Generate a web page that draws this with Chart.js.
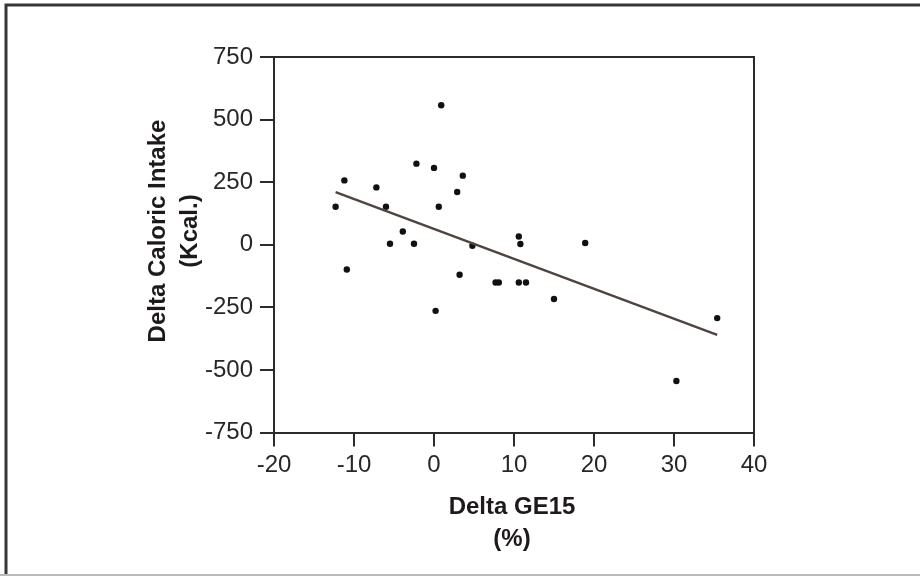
<!DOCTYPE html>
<html>
<head>
<meta charset="utf-8">
<script src="https://cdn.jsdelivr.net/npm/chart.js@4.4.1/dist/chart.umd.min.js"></script>
<style>
  html, body { margin: 0; padding: 0; background: #fff; }
  canvas { display: block; }
</style>
</head>
<body>
<canvas id="chart" width="920" height="576"></canvas>
<script>
// values
const deltaGE15 = [0.9, -2.2, 0.0, 3.6, -11.2, -7.2, 2.9, -12.3, -6.0, 0.6, -3.9, -5.5, -2.5, 4.8,
  -10.9, 3.2, 0.2, 10.6, 10.8, 18.9, 7.7, 8.1, 10.6, 11.5, 15.0, 35.4, 30.3];
const deltaKcal = [557, 324, 307, 276, 257, 229, 211, 152, 152, 152, 53, 4, 4, -4,
  -99, -120, -264, 33, 3, 7, -151, -151, -151, -151, -217, -293, -544];
const fitX = [-12.3, 35.4];
const fitY = [210, -360];
const xTitle = ["Delta GE15", "(%)"];
const yTitle = ["Delta Caloric Intake", "(Kcal.)"];

const ink = "#2e2a29";
const fontFamily = "Arial, 'Liberation Sans', Helvetica, sans-serif";

const framePlugin = {
  id: "frame",
  beforeDraw(chart) {
    const ctx = chart.ctx;
    ctx.save();
    ctx.fillStyle = "#fff";
    ctx.fillRect(0, 0, chart.width, chart.height);
    ctx.restore();
  },
  afterDraw(chart) {
    const ctx = chart.ctx;
    const a = chart.chartArea;
    ctx.save();
    // plot box (top and right)
    ctx.strokeStyle = ink;
    ctx.lineWidth = 2;
    ctx.beginPath();
    ctx.moveTo(a.left, a.top);
    ctx.lineTo(a.right, a.top);
    ctx.lineTo(a.right, a.bottom);
    ctx.stroke();

    // outer picture border
    ctx.strokeStyle = "#3a3535";
    ctx.lineWidth = 3;
    ctx.beginPath();
    ctx.moveTo(6, chart.height);
    ctx.lineTo(6, 5);
    ctx.lineTo(chart.width, 5);
    ctx.stroke();
    ctx.strokeStyle = "#bbbbbb";
    ctx.lineWidth = 2;
    ctx.beginPath();
    ctx.moveTo(0, chart.height - 1);
    ctx.lineTo(chart.width, chart.height - 1);
    ctx.stroke();

    // axis titles
    ctx.fillStyle = "#1e1a1a";
    ctx.font = "bold 24px " + fontFamily;
    ctx.textAlign = "center";
    ctx.textBaseline = "middle";
    const xc = (a.left + a.right) / 2 - 2;
    ctx.fillText(xTitle[0], xc, 507);
    ctx.fillText(xTitle[1], xc, 539);

    ctx.translate(0, 0);
    ctx.save();
    ctx.translate(158, 231);
    ctx.rotate(-Math.PI / 2);
    ctx.fillText(yTitle[0], 0, 0);
    ctx.restore();
    ctx.save();
    ctx.translate(190, 231);
    ctx.rotate(-Math.PI / 2);
    ctx.fillText(yTitle[1], 0, 0);
    ctx.restore();
    ctx.restore();
  }
};

const points = deltaGE15.map((x, i) => ({ x: x, y: deltaKcal[i] }));
const fitLine = fitX.map((x, i) => ({ x: x, y: fitY[i] }));

new Chart(document.getElementById("chart"), {
  type: "scatter",
  data: {
    datasets: [
      {
        label: "Fit",
        data: fitLine,
        showLine: true,
        borderColor: "#4f4440",
        borderWidth: 2.5,
        pointRadius: 0,
        fill: false
      },
      {
        label: "Subjects",
        data: points,
        backgroundColor: "#111",
        borderColor: "#111",
        pointRadius: 3.2,
        pointBorderWidth: 0
      }
    ]
  },
  options: {
    responsive: false,
    animation: false,
    layout: { padding: { left: 0, top: 57, right: 166, bottom: 0 } },
    plugins: {
      legend: { display: false },
      tooltip: { enabled: false }
    },
    scales: {
      x: {
        type: "linear",
        min: -20,
        max: 40,
        afterFit: (scale) => { scale.height = 143.5; },
        border: { display: true, color: ink, width: 2 },
        grid: {
          drawOnChartArea: false,
          drawTicks: true,
          tickLength: 14,
          color: ink,
          lineWidth: 2
        },
        ticks: {
          stepSize: 10,
          padding: 4,
          color: "#2a2626",
          font: { family: fontFamily, size: 24 }
        }
      },
      y: {
        type: "linear",
        min: -750,
        max: 750,
        afterFit: (scale) => { scale.width = 274; },
        border: { display: true, color: ink, width: 2 },
        grid: {
          drawOnChartArea: false,
          drawTicks: true,
          tickLength: 14,
          color: ink,
          lineWidth: 2
        },
        ticks: {
          stepSize: 250,
          padding: 7,
          color: "#2a2626",
          font: { family: fontFamily, size: 24 }
        }
      }
    }
  },
  plugins: [framePlugin]
});
</script>
</body>
</html>
